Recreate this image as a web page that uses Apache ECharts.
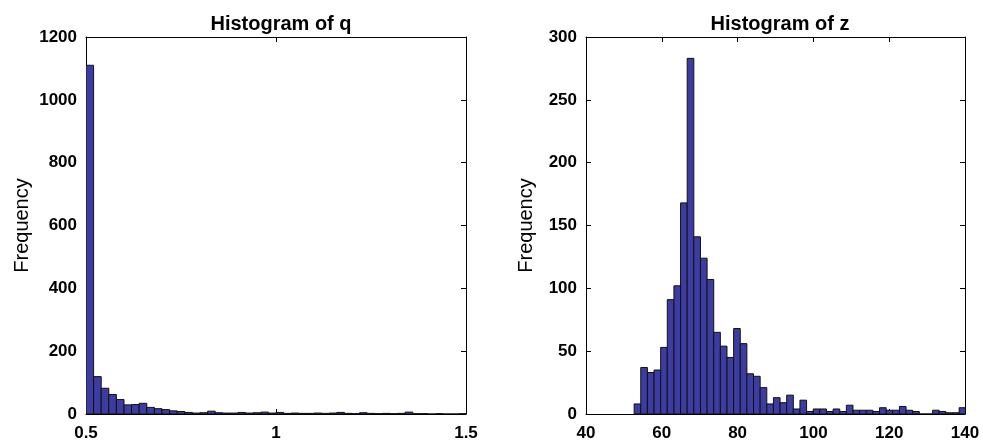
<!DOCTYPE html>
<html>
<head>
<meta charset="utf-8">
<script src="https://cdn.jsdelivr.net/npm/echarts@6/dist/echarts.min.js"></script>
<style>
  html, body { margin: 0; padding: 0; background: #fff; }
  #main { width: 983px; height: 445px; }
</style>
</head>
<body>
<div id="main"></div>
<script>
// histogram of q: 50 bins of width 0.02 starting at 0.5
var qBinStart = 0.5
var qBinWidth = 0.02
var qCounts = [1110, 119, 82, 62, 46, 29, 30, 34, 21, 17,
  14, 10, 8, 5, 3, 4, 9, 4, 3, 3,
  5, 3, 4, 6, 3, 5, 2, 3, 2, 2,
  3, 2, 3, 5, 2, 1, 4, 2, 1, 2,
  1, 2, 6, 1, 1, 0, 1, 0, 0, 1]

// histogram of z: 50 bins starting near 52.7
var zBinStart = 52.7
var zBinWidth = 1.75
var zCounts = [8, 37, 33, 35, 53, 91, 102, 168, 283, 141,
  124, 107, 65, 54, 45, 68, 56, 32, 30, 21,
  8, 13, 9, 15, 4, 11, 2, 4, 4, 2,
  4, 2, 7, 3, 3, 3, 2, 5, 3, 3,
  6, 3, 2, 0, 0, 3, 2, 1, 1, 5]

var qTicks = { min: 0.5, max: 1.5, interval: 0.5 }
var zTicks = { min: 40, max: 140, interval: 20 }
var qFreqTicks = { min: 0, max: 1200, interval: 200 }
var zFreqTicks = { min: 0, max: 300, interval: 50 }

function toBins (start, width, counts) {
  return counts.map(function (c, i) {
    return [start + i * width, start + (i + 1) * width, c]
  })
}

// plain numbers, no thousands separator
function plain (v) {
  return String(v)
}

var labelFont = {
  color: '#000',
  fontFamily: 'Liberation Sans',
  fontWeight: 'bold',
  fontSize: 17,
  formatter: plain
}

function xAxes (ticks, gridIndex) {
  var base = {
    type: 'value',
    gridIndex: gridIndex,
    min: ticks.min,
    max: ticks.max,
    interval: ticks.interval,
    axisLine: { show: true, onZero: false, lineStyle: { color: '#000', width: 1 } },
    axisTick: { show: true, inside: true, length: 5, lineStyle: { color: '#000' } },
    splitLine: { show: false }
  }
  var bottom = Object.assign({}, base, {
    position: 'bottom',
    axisLabel: Object.assign({ margin: 11 }, labelFont)
  })
  var top = Object.assign({}, base, {
    position: 'top',
    axisLabel: { show: false }
  })
  return [bottom, top]
}

function yAxes (ticks, gridIndex, nameGap) {
  var base = {
    type: 'value',
    gridIndex: gridIndex,
    min: ticks.min,
    max: ticks.max,
    interval: ticks.interval,
    axisLine: { show: true, onZero: false, lineStyle: { color: '#000', width: 1 } },
    axisTick: { show: true, inside: true, length: 5, lineStyle: { color: '#000' } },
    splitLine: { show: false }
  }
  var left = Object.assign({}, base, {
    position: 'left',
    name: 'Frequency',
    nameLocation: 'middle',
    nameGap: nameGap,
    nameTextStyle: { color: '#000', fontFamily: 'Liberation Sans', fontSize: 20 },
    axisLabel: Object.assign({ margin: 9 }, labelFont)
  })
  var right = Object.assign({}, base, {
    position: 'right',
    axisLabel: { show: false }
  })
  return [left, right]
}

function histSeries (data, axisIndex) {
  return {
    type: 'custom',
    xAxisIndex: axisIndex,
    yAxisIndex: axisIndex,
    clip: true,
    data: data,
    encode: { x: [0, 1], y: 2 },
    renderItem: function (params, api) {
      var p0 = api.coord([api.value(0), 0])
      var p1 = api.coord([api.value(1), api.value(2)])
      return {
        type: 'rect',
        shape: { x: p0[0], y: p1[1], width: p1[0] - p0[0], height: p0[1] - p1[1] },
        style: { fill: '#3c3ca2', stroke: '#111', lineWidth: 1 }
      }
    }
  }
}

var chart = echarts.init(document.getElementById('main'))
var xs = xAxes(qTicks, 0).concat(xAxes(zTicks, 1))
var ys = yAxes(qFreqTicks, 0, 54).concat(yAxes(zFreqTicks, 1, 50))

chart.setOption({
  animation: false,
  title: [{
    text: 'Histogram of q',
    left: 276,
    top: 9,
    textAlign: 'center',
    textStyle: { color: '#000', fontFamily: 'Liberation Sans', fontWeight: 'bold', fontSize: 20 }
  }, {
    text: 'Histogram of z',
    left: 775,
    top: 9,
    textAlign: 'center',
    textStyle: { color: '#000', fontFamily: 'Liberation Sans', fontWeight: 'bold', fontSize: 20 }
  }],
  grid: [
    { left: 86, right: 517, top: 37, bottom: 31 },
    { left: 586, right: 18, top: 37, bottom: 31 }
  ],
  xAxis: xs,
  yAxis: ys,
  series: [
    histSeries(toBins(qBinStart, qBinWidth, qCounts), 0),
    histSeries(toBins(zBinStart, zBinWidth, zCounts), 2)
  ]
})
</script>
</body>
</html>
